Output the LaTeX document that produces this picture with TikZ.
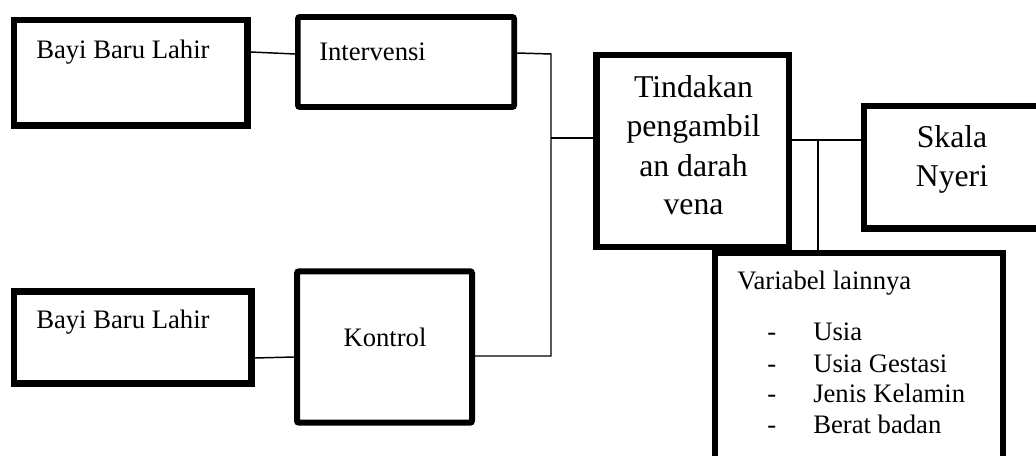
\documentclass[tikz,border=0pt]{standalone}
\usepackage{fontspec}
\setmainfont{Liberation Serif}
\begin{document}
\begin{tikzpicture}[x=0.75pt,y=-0.75pt,
  box/.style={draw=black, rectangle, inner sep=0pt},
  txt/.style={inner sep=0pt, font=\fontsize{20}{24}\selectfont},
  bigtxt/.style={inner sep=0pt, font=\fontsize{23.8}{29}\selectfont},
  conn/.style={draw=black, line width=1.1pt}]
\useasboundingbox (0,0) rectangle (1036,456);
\clip (0,0) rectangle (1036,456);
\fill[white] (0,0) rectangle (1036,456);
% boxes
\node[box, line width=5pt, minimum width=175pt, minimum height=79.3pt] (b1) at (130.7,72.9) {};
\node[box, line width=4.3pt, rounded corners=1.5pt, minimum width=162.2pt, minimum height=67.6pt] (iv) at (406,62) {};
\node[box, line width=5pt, minimum width=178.3pt, minimum height=69pt] (b2) at (132.8,337.3) {};
\node[box, line width=4.5pt, rounded corners=1.5pt, minimum width=131.25pt, minimum height=113.5pt] (ko) at (384.5,347) {};
\node[box, line width=4.7pt, minimum width=144.5pt, minimum height=144pt] (td) at (692.8,150.9) {};
\node[box, line width=5pt, minimum width=154.5pt, minimum height=91.7pt] (sk) at (967,167.2) {};
\node[box, line width=4.1pt, minimum width=216pt, minimum height=177.9pt] (va) at (859,371.4) {};
% texts
\node[txt, anchor=base west] (t1) at (36,59) {Bayi Baru Lahir};
\node[txt, anchor=base west] (t2) at (319,61) {Intervensi};
\node[txt, anchor=base west] (t3) at (36,329) {Bayi Baru Lahir};
\node[txt, anchor=base] (t4) at (385,346) {Kontrol};
\node[bigtxt, anchor=base] (td1) at (693.5,98) {Tindakan};
\node[bigtxt, anchor=base] (td2) at (693.5,137) {pengambil};
\node[bigtxt, anchor=base] (td3) at (693.5,177) {an darah};
\node[bigtxt, anchor=base] (td4) at (693.5,215) {vena};
\node[bigtxt, anchor=base] (sk1) at (952,148) {Skala};
\node[bigtxt, anchor=base] (sk2) at (952,187) {Nyeri};
\node[txt, anchor=base west] (v0) at (737,290) {Variabel lainnya};
\node[txt, anchor=base west] (d1) at (767,340) {-};
\node[txt, anchor=base west] (d2) at (767,372) {-};
\node[txt, anchor=base west] (d3) at (767,402) {-};
\node[txt, anchor=base west] (d4) at (767,433) {-};
\node[txt, anchor=base west] (v1) at (813,340) {Usia};
\node[txt, anchor=base west] (v2) at (813,372) {Usia Gestasi};
\node[txt, anchor=base west] (v3) at (813,402) {Jenis Kelamin};
\node[txt, anchor=base west] (v4) at (813,433) {Berat badan};
% junctions
\coordinate (jt) at (551,54);
\coordinate (jm) at (551,138);
\coordinate (jb) at (551,356);
\coordinate (jr) at (818,140);
% connectors
\draw[conn] (b1.east |- 0,52) -- (iv.west |- 0,54);
\draw[conn] (b2.east |- 0,358) -- (ko.west |- 0,357);
\draw[conn] (iv.east |- 0,53) -- (jt) -- (jb) -- (ko.east |- jb);
\draw[conn] (jm) -- (td.west |- jm);
\draw[conn] (td.east |- jr) -- (sk.west |- jr);
\draw[conn] (jr) -- (va.north -| jr);
\end{tikzpicture}
\end{document}
